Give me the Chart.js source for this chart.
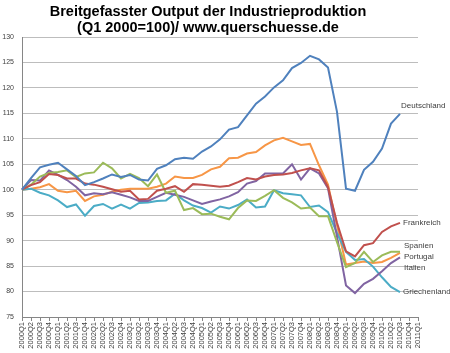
<!DOCTYPE html>
<html>
<head>
<meta charset="utf-8">
<script src="https://cdn.jsdelivr.net/npm/chart.js@4.4.0/dist/chart.umd.min.js"></script>
<style>
html,body{margin:0;padding:0;background:#fff}
#wrap{width:450px;height:353px}
</style>
</head>
<body>
<div id="wrap"><canvas id="myChart"></canvas></div>
<script>
const quartale = ['2000Q1','2000Q2','2000Q3','2000Q4','2001Q1','2001Q2','2001Q3','2001Q4',
	'2002Q1','2002Q2','2002Q3','2002Q4','2003Q1','2003Q2','2003Q3','2003Q4',
	'2004Q1','2004Q2','2004Q3','2004Q4','2005Q1','2005Q2','2005Q3','2005Q4',
	'2006Q1','2006Q2','2006Q3','2006Q4','2007Q1','2007Q2','2007Q3','2007Q4',
	'2008Q1','2008Q2','2008Q3','2008Q4','2009Q1','2009Q2','2009Q3','2009Q4',
	'2010Q1','2010Q2','2010Q3','2010Q4','2011Q1'];

const deutschland = [100, 102.3, 104.4, 104.9, 105.3, 104.0, 102.7, 100.9, 101.5, 102.2, 103.0, 102.5, 102.9, 102.0, 101.8,
	104.1, 104.8, 106.0, 106.3, 106.1, 107.5, 108.5, 109.9, 111.8, 112.3, 114.6, 116.9, 118.3, 120.1, 121.5,
	123.9, 124.9, 126.3, 125.6, 124.0, 115.3, 100.2, 99.8, 103.9, 105.5, 108.1, 113.0, 114.9];
const frankreich = [100, 100.9, 101.5, 103.1, 102.9, 102.2, 102.2, 101.2, 101.0, 100.6, 100.1, 99.6, 99.8, 98.1, 98.2,
	99.8, 100.2, 100.7, 99.6, 101.1, 101.0, 100.8, 100.6, 100.8, 101.5, 102.3, 102.0, 102.6, 102.9, 103.0,
	103.3, 103.8, 104.2, 103.8, 100.5, 93.5, 87.9, 86.9, 89.1, 89.5, 91.7, 92.8, 93.5];
const spanien = [100, 101.0, 102.6, 103.3, 103.5, 103.8, 102.5, 103.2, 103.4, 105.3, 104.2, 102.2, 103.1, 102.3, 100.7,
	103.0, 99.4, 99.8, 96.0, 96.4, 95.2, 95.3, 94.7, 94.2, 96.4, 97.9, 97.8, 98.8, 99.9, 98.4,
	97.5, 96.3, 96.5, 94.8, 94.8, 89.7, 84.8, 85.6, 87.8, 85.8, 87.1, 87.8, 87.8];
const italien = [100, 101.9, 101.8, 103.8, 102.9, 101.9, 100.6, 98.9, 99.3, 99.1, 99.5, 99.0, 98.5, 97.8, 97.8,
	98.6, 99.4, 99.0, 98.6, 97.9, 97.2, 97.7, 98.1, 98.7, 99.5, 101.2, 101.7, 103.2, 103.2, 103.2,
	105.0, 102.0, 104.2, 103.2, 100.3, 90.8, 81.2, 79.7, 81.5, 82.5, 84.0, 85.6, 86.7];
const griechenland = [100, 100.2, 99.4, 98.9, 97.9, 96.6, 97.1, 94.9, 96.8, 97.2, 96.3, 97.1, 96.3, 97.4, 97.5,
	97.8, 97.9, 99.2, 97.9, 96.9, 96.4, 95.5, 96.7, 96.3, 97.0, 98.1, 96.5, 96.7, 99.9, 99.3,
	99.1, 98.9, 96.6, 96.9, 95.6, 91.5, 87.8, 86.2, 86.4, 84.9, 82.8, 80.9, 79.9];
const portugal = [100, 100.2, 100.5, 101.1, 99.8, 99.5, 99.8, 97.8, 98.7, 99.0, 99.6, 100.0, 100.2, 100.2, 100.2,
	100.6, 101.2, 102.6, 102.3, 102.3, 102.9, 104.0, 104.5, 106.2, 106.3, 107.1, 107.4, 108.7, 109.7, 110.2,
	109.5, 108.8, 109.0, 104.8, 101.0, 93.0, 85.3, 85.6, 85.9, 85.6, 85.8, 86.6, 87.6];

const titel = ['Breitgefasster Output der Industrieproduktion', '(Q1 2000=100)/ www.querschuesse.de'];

// Abstand der Beschriftung vom letzten Punkt (px)
const versatz = {
	'Deutschland': [1, -8],
	'Frankreich': [3, 0],
	'Spanien': [4, -6],
	'Portugal': [4, 4],
	'Italien': [4, 10],
	'Griechenland': [3, 0]
};

function serie(name, werte, farbe){
	return {
		label: name,
		data: werte,
		borderColor: farbe,
		backgroundColor: farbe,
		borderWidth: 2,
		pointRadius: 0,
		fill: false,
		tension: 0
	}
}

const beschriftung = {
	id: 'beschriftung',
	afterDraw(chart){
		const ctx = chart.ctx;
		ctx.save();
		ctx.fillStyle = '#000';
		ctx.font = 'bold 14.5px "Liberation Sans", Arial, sans-serif';
		ctx.textAlign = 'center';
		ctx.textBaseline = 'alphabetic';
		ctx.fillText(titel[0], 208, 16);
		ctx.fillText(titel[1], 208, 32);

		ctx.font = '8px "Liberation Sans", Arial, sans-serif';
		ctx.fillStyle = '#404040';
		ctx.textAlign = 'left';
		ctx.textBaseline = 'middle';
		chart.data.datasets.forEach((ds, i) => {
			const meta = chart.getDatasetMeta(i);
			const p = meta.data[meta.data.length - 1];
			const off = versatz[ds.label];
			ctx.fillText(ds.label, p.x + off[0], p.y + off[1]);
		});
		ctx.restore();
	}
};

const ctx = document.getElementById('myChart');
new Chart(ctx.getContext('2d'), {
	type: 'line',
	data: {
		labels: quartale,
		datasets: [
			serie('Deutschland', deutschland, '#4F81BD'),
			serie('Frankreich', frankreich, '#C0504D'),
			serie('Spanien', spanien, '#9BBB59'),
			serie('Italien', italien, '#8064A2'),
			serie('Griechenland', griechenland, '#4BACC6'),
			serie('Portugal', portugal, '#F79646')
		]
	},
	options: {
		responsive: true,
		maintainAspectRatio: false,
		animation: false,
		layout: {padding: {top: 37, right: 32, left: 0, bottom: 0}},
		plugins: {
			legend: {display: false},
			title: {display: false},
			tooltip: {enabled: false}
		},
		scales: {
			x: {
				offset: false,
				grid: {display: true, drawOnChartArea: false, drawTicks: true, tickLength: 4, color: '#868686'},
				border: {display: true, color: '#868686'},
				ticks: {
					autoSkip: false, maxRotation: 90, minRotation: 90, padding: 1,
					color: '#404040',
					font: {size: 7.5, family: '"Liberation Sans", Arial, sans-serif'}
				},
				afterFit(scale){ scale.height = 36; }
			},
			y: {
				min: 75, max: 130,
				grid: {color: '#BDBDBD', drawTicks: false},
				border: {display: true, color: '#868686'},
				ticks: {
					stepSize: 5, padding: 8,
					color: '#404040',
					font: {size: 7, family: '"Liberation Sans", Arial, sans-serif'}
				},
				afterFit(scale){ scale.width = 22; }
			}
		}
	},
	plugins: [beschriftung]
});
</script>
</body>
</html>
